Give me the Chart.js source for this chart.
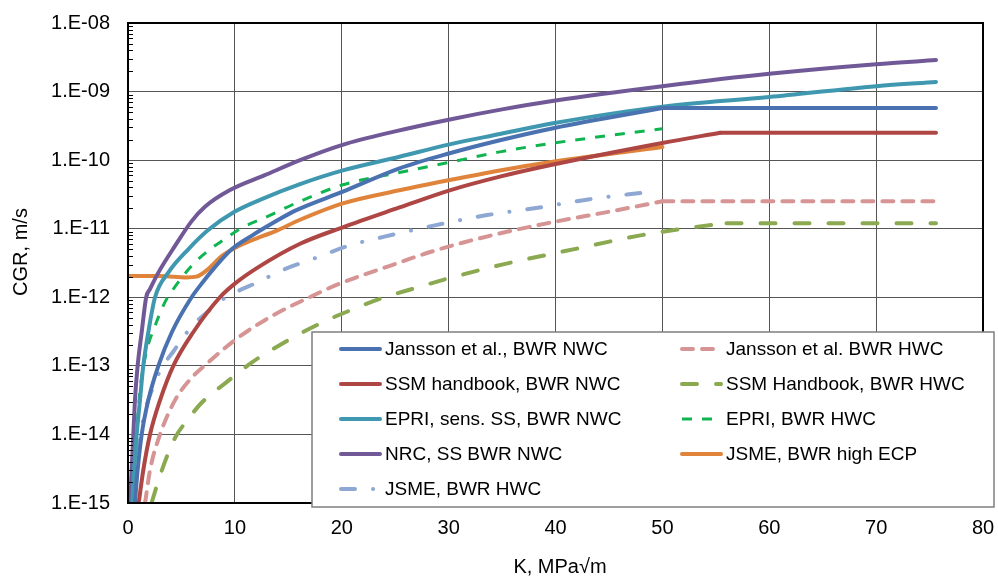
<!DOCTYPE html>
<html>
<head>
<meta charset="utf-8">
<title>CGR vs K</title>
<script src="https://cdn.jsdelivr.net/npm/chart.js@4.4.1/dist/chart.umd.min.js"></script>
<style>
	html, body { margin: 0; padding: 0; background: #fff; }
	#wrap { width: 998px; height: 576px; }
</style>
</head>
<body>
<div id="wrap"><canvas id="cgr-chart" width="998" height="576"></canvas></div>
<script>
// K in MPa√m, CGR in m/s
const janssonNwcK = [0.65, 0.9, 1.28, 1.9, 2.84, 4.1, 5.95, 7.05, 8.14, 9.7, 11.6, 13.75, 15.6, 20.1, 25.4, 30.1, 34.8, 39.9, 50, 75.6];
const janssonNwcCgr = [1e-15, 3.02e-15, 1e-14, 3.16e-14, 1e-13, 3.09e-13, 1e-12, 1.70e-12, 2.75e-12, 5.01e-12, 7.94e-12, 1.26e-11, 1.82e-11, 3.47e-11, 7.59e-11, 1.26e-10, 1.95e-10, 2.95e-10, 5.75e-10, 5.75e-10];

const ssmNwcK = [1.0, 1.43, 2.06, 3.0, 4.24, 6.1, 8.6, 10.0, 12.2, 16.1, 20.1, 25.4, 30.1, 34.8, 39.9, 50, 55.4, 75.6];
const ssmNwcCgr = [1e-15, 3.02e-15, 1e-14, 3.16e-14, 1e-13, 3.09e-13, 1e-12, 1.58e-12, 2.75e-12, 6.03e-12, 1.05e-11, 2.04e-11, 3.63e-11, 5.75e-11, 8.71e-11, 1.78e-10, 2.51e-10, 2.51e-10];

const epriSsNwcK = [0.4, 0.56, 0.81, 1.12, 1.43, 1.9, 2.53, 3.77, 5.64, 7.5, 10.0, 12.8, 16.1, 20.1, 25.4, 30.1, 34.8, 39.9, 50, 60, 70, 75.6];
const epriSsNwcCgr = [1e-15, 3.02e-15, 1e-14, 3.16e-14, 1e-13, 3.09e-13, 1e-12, 2.29e-12, 5.01e-12, 9.55e-12, 1.78e-11, 2.82e-11, 4.47e-11, 7.08e-11, 1.12e-10, 1.70e-10, 2.40e-10, 3.47e-10, 6.03e-10, 8.32e-10, 1.20e-9, 1.38e-9];

const nrcNwcK = [0.19, 0.34, 0.5, 0.65, 0.9, 1.28, 1.7, 2.06, 2.84, 4.4, 5.96, 7.2, 9.5, 12.8, 16.1, 20, 25, 30, 35, 40, 50, 60, 70, 75.6];
const nrcNwcCgr = [1e-15, 3.02e-15, 1e-14, 3.16e-14, 1e-13, 3.09e-13, 1e-12, 1.32e-12, 2.29e-12, 5.62e-12, 1.29e-11, 2.09e-11, 3.63e-11, 6.03e-11, 1.0e-10, 1.66e-10, 2.63e-10, 3.89e-10, 5.50e-10, 7.41e-10, 1.20e-9, 1.82e-9, 2.51e-9, 2.88e-9];

const jsmeHwcK = [0.5, 0.9, 1.12, 1.43, 2.34, 3.15, 4.24, 5.0, 6.1, 7.4, 8.4, 10.0, 12.0, 14.5, 17.5, 20.8, 23.9, 28.7, 33.6, 38.5, 43.2, 48.4];
const jsmeHwcCgr = [1e-15, 4.68e-15, 8.32e-15, 1.70e-14, 4.90e-14, 9.33e-14, 1.62e-13, 2.40e-13, 3.98e-13, 6.03e-13, 8.32e-13, 1.17e-12, 1.62e-12, 2.51e-12, 3.72e-12, 5.75e-12, 7.59e-12, 1.12e-11, 1.58e-11, 2.04e-11, 2.69e-11, 3.39e-11];

const janssonHwcK = [1.6, 2.06, 3.0, 4.4, 5.8, 7.5, 10.2, 13.5, 16.7, 19.8, 24.5, 28.9, 34.2, 39.9, 45.1, 50, 75.6];
const janssonHwcCgr = [1e-15, 3.02e-15, 1e-14, 3.16e-14, 6.31e-14, 1.12e-13, 2.51e-13, 5.37e-13, 9.55e-13, 1.58e-12, 2.88e-12, 4.90e-12, 8.13e-12, 1.26e-11, 1.78e-11, 2.51e-11, 2.51e-11];

const ssmHwcK = [2.2, 3.15, 4.4, 5.5, 7.0, 9.2, 11.7, 14.5, 18, 20.8, 23.6, 27, 30.1, 35.1, 42, 48.2, 52.9, 56, 75.6];
const ssmHwcCgr = [1e-15, 2.95e-15, 8.91e-15, 1.58e-14, 3.02e-14, 5.75e-14, 1.15e-13, 2.14e-13, 4.17e-13, 6.46e-13, 9.55e-13, 1.38e-12, 1.91e-12, 3.02e-12, 5.13e-12, 8.13e-12, 1.05e-11, 1.20e-11, 1.20e-11];

const epriHwcK = [0.45, 0.8, 1.12, 1.7, 2.5, 3.46, 4.24, 5.96, 7.5, 9.07, 10.6, 12.8, 16.1, 20.1, 25.4, 30.1, 34.8, 39.9, 50];
const epriHwcCgr = [1e-15, 1e-14, 4.37e-14, 1.55e-13, 3.72e-13, 8.51e-13, 1.32e-12, 2.88e-12, 4.79e-12, 7.08e-12, 1.02e-11, 1.45e-11, 2.51e-11, 4.37e-11, 6.61e-11, 9.33e-11, 1.32e-10, 1.78e-10, 2.88e-10];

const jsmeHighEcpK = [0, 3, 5.5, 6.4, 7.5, 8.76, 10.0, 12.2, 13.75, 16.1, 20.1, 25.4, 30.1, 34.8, 39.9, 50];
const jsmeHighEcpCgr = [2.04e-12, 2.04e-12, 1.95e-12, 2.0e-12, 2.57e-12, 3.98e-12, 5.25e-12, 7.41e-12, 9.12e-12, 1.35e-11, 2.34e-11, 3.63e-11, 5.13e-11, 7.08e-11, 9.55e-11, 1.55e-10];

// axes
const kMin = 0;
const kMax = 80;
const kStep = 10;
const cgrTickValues = [1e-15, 1e-14, 1e-13, 1e-12, 1e-11, 1e-10, 1e-9, 1e-8];
const cgrTickLabels = ['1.E-15', '1.E-14', '1.E-13', '1.E-12', '1.E-11', '1.E-10', '1.E-09', '1.E-08'];
const xTitle = 'K, MPa√m';
const yTitle = 'CGR, m/s';

// line styles, legend slot (col, row), index where the curve turns flat
const seriesDefs = [
	{ label: 'Jansson et al., BWR NWC', k: janssonNwcK, cgr: janssonNwcCgr, flatFrom: 18, color: '#4A72B0', width: 4, dash: [], cap: 'round', col: 0, row: 0 },
	{ label: 'SSM handbook, BWR NWC', k: ssmNwcK, cgr: ssmNwcCgr, flatFrom: 16, color: '#AE4644', width: 4, dash: [], cap: 'round', col: 0, row: 1 },
	{ label: 'EPRI, sens. SS, BWR NWC', k: epriSsNwcK, cgr: epriSsNwcCgr, color: '#3F98B0', width: 4, dash: [], cap: 'round', col: 0, row: 2 },
	{ label: 'NRC, SS BWR NWC', k: nrcNwcK, cgr: nrcNwcCgr, color: '#715998', width: 4, dash: [], cap: 'round', col: 0, row: 3 },
	{ label: 'JSME, BWR HWC', k: jsmeHwcK, cgr: jsmeHwcCgr, color: '#8FA8D3', width: 4, dash: [14, 18, 0.1, 18], cap: 'round', col: 0, row: 4 },
	{ label: 'Jansson et al. BWR HWC', k: janssonHwcK, cgr: janssonHwcCgr, flatFrom: 15, color: '#D69594', width: 4, dash: [11, 9], cap: 'round', col: 1, row: 0 },
	{ label: 'SSM Handbook, BWR HWC', k: ssmHwcK, cgr: ssmHwcCgr, flatFrom: 17, color: '#8BA950', width: 4, dash: [15, 19], cap: 'round', col: 1, row: 1 },
	{ label: 'EPRI, BWR HWC', k: epriHwcK, cgr: epriHwcCgr, color: '#10B550', width: 3, dash: [10, 10], cap: 'butt', col: 1, row: 2 },
	{ label: 'JSME, BWR high ECP', k: jsmeHighEcpK, cgr: jsmeHighEcpCgr, color: '#E0843C', width: 4, dash: [], cap: 'round', col: 1, row: 3 },
];

const FONT = "'Liberation Sans', Arial, sans-serif";

const toPoints = (k, cgr) => k.map((v, i) => ({ x: v, y: cgr[i] }));

// curved part (monotone) and, where there is one, the flat tail as a straight line
function buildDatasets() {
	const out = [];
	seriesDefs.forEach((s) => {
		const line = {
			borderColor: s.color,
			borderWidth: s.width,
			borderDash: s.dash,
			borderCapStyle: s.cap,
			borderJoinStyle: 'round',
			pointRadius: 0,
			fill: false,
		};
		const end = s.flatFrom === undefined ? s.k.length : s.flatFrom + 1;
		out.push({
			...line,
			label: s.label,
			data: toPoints(s.k.slice(0, end), s.cgr.slice(0, end)),
			cubicInterpolationMode: 'monotone',
		});
		if (s.flatFrom !== undefined) {
			out.push({
				...line,
				label: s.label + ' (flat)',
				data: toPoints(s.k.slice(s.flatFrom), s.cgr.slice(s.flatFrom)),
				tension: 0,
			});
		}
	});
	return out;
}

// minor ticks, frame, axis titles and the boxed legend
const cgrDecorations = {
	id: 'cgrDecorations',
	afterDraw(chart) {
		const { ctx, chartArea: a, scales: { y } } = chart;
		ctx.save();

		// log minor ticks on the left axis
		ctx.strokeStyle = '#000';
		ctx.lineWidth = 1;
		ctx.beginPath();
		for (let i = 0; i < cgrTickValues.length - 1; i++) {
			for (let m = 2; m <= 9; m++) {
				const py = Math.round(y.getPixelForValue(cgrTickValues[i] * m)) + 0.5;
				ctx.moveTo(a.left, py);
				ctx.lineTo(a.left + 5, py);
			}
		}
		ctx.stroke();

		// plot frame
		ctx.lineWidth = 2;
		ctx.strokeRect(a.left, a.top, a.right - a.left, a.bottom - a.top);

		// axis titles
		ctx.fillStyle = '#000';
		ctx.font = `20px ${FONT}`;
		ctx.textAlign = 'center';
		ctx.textBaseline = 'alphabetic';
		ctx.fillText(xTitle, 560, 573);
		ctx.translate(27, 252);
		ctx.rotate(-Math.PI / 2);
		ctx.fillText(yTitle, 0, 0);
		ctx.setTransform(1, 0, 0, 1, 0, 0);

		// legend box
		const box = { left: 312, top: 332, right: 994, bottom: 507 };
		ctx.fillStyle = '#fff';
		ctx.fillRect(box.left, box.top, box.right - box.left, box.bottom - box.top);
		ctx.strokeStyle = '#7f7f7f';
		ctx.lineWidth = 1.5;
		ctx.strokeRect(box.left, box.top, box.right - box.left, box.bottom - box.top);

		const colX = [341, 682];
		const rowY = [349, 384, 419, 454, 489];
		ctx.font = `19px ${FONT}`;
		ctx.textAlign = 'left';
		ctx.textBaseline = 'middle';
		seriesDefs.forEach((s) => {
			const x0 = colX[s.col];
			const yy = rowY[s.row];
			ctx.beginPath();
			ctx.strokeStyle = s.color;
			ctx.lineWidth = s.width;
			ctx.lineCap = s.cap;
			ctx.setLineDash(s.dash);
			ctx.moveTo(x0, yy);
			ctx.lineTo(x0 + 39, yy);
			ctx.stroke();
			ctx.setLineDash([]);
			ctx.fillStyle = '#000';
			ctx.fillText(s.label, x0 + 44, yy + 1);
		});

		ctx.restore();
	},
};

// keep the plot area exactly where the layout padding puts it
function fixScaleBox(scale, size) {
	if (scale.isHorizontal()) scale.height = size;
	else scale.width = size;
	scale.paddingLeft = 0;
	scale.paddingRight = 0;
	scale.paddingTop = 0;
	scale.paddingBottom = 0;
}

Chart.defaults.font.family = FONT;
Chart.defaults.color = '#000';

const ctx = document.getElementById('cgr-chart');

new Chart(ctx, {
	type: 'line',
	data: { datasets: buildDatasets() },
	options: {
		responsive: false,
		animation: false,
		devicePixelRatio: 1,
		layout: { padding: { top: 23, right: 15, left: 0, bottom: 0 } },
		scales: {
			x: {
				type: 'linear',
				min: kMin,
				max: kMax,
				ticks: { stepSize: kStep, padding: 13, font: { size: 20 } },
				grid: { color: '#555', lineWidth: 1, drawTicks: false },
				border: { display: true, color: '#000', width: 2 },
				afterFit: (scale) => fixScaleBox(scale, 73),
			},
			y: {
				type: 'logarithmic',
				min: cgrTickValues[0],
				max: cgrTickValues[cgrTickValues.length - 1],
				afterBuildTicks: (scale) => {
					scale.ticks = cgrTickValues.map((v) => ({ value: v }));
				},
				ticks: {
					padding: 18,
					font: { size: 20 },
					callback: (value, index) => cgrTickLabels[index],
				},
				grid: { color: '#555', lineWidth: 1, drawTicks: false },
				border: { display: true, color: '#000', width: 2 },
				afterFit: (scale) => fixScaleBox(scale, 128),
			},
		},
		plugins: {
			legend: { display: false },
			tooltip: { enabled: false },
		},
	},
	plugins: [cgrDecorations],
});
</script>
</body>
</html>
